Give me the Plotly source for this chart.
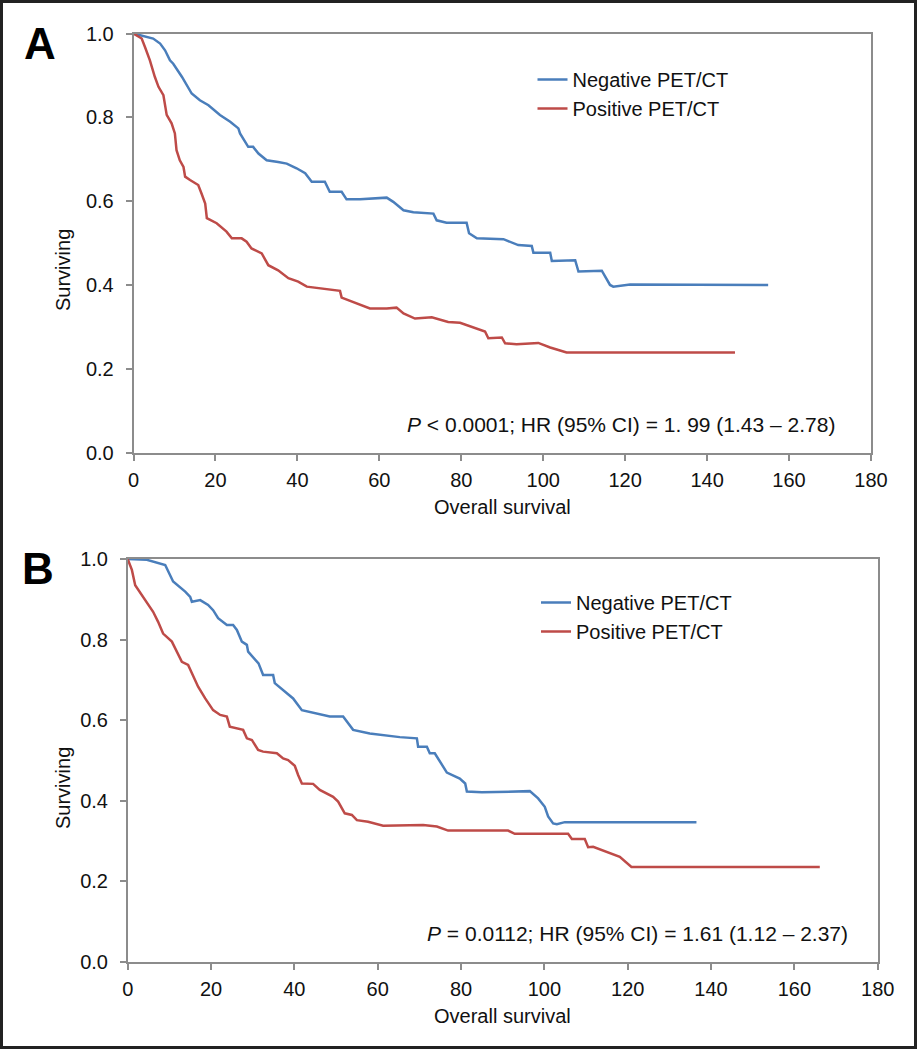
import plotly.graph_objects as go

# ---------------- data ----------------
months_ticks = [0, 20, 40, 60, 80, 100, 120, 140, 160, 180]
surv_ticks = [0.0, 0.2, 0.4, 0.6, 0.8, 1.0]

a_neg_x = [0, 4.8, 6.5, 7.7, 8.9, 9.7, 11.8, 14.2, 16.2, 18.3, 21.1, 23.6, 25.6, 26.0, 28.0, 29.2,
           30.5, 32.5, 35.3, 37.4, 39.8, 41.9, 43.5, 46.7, 47.9, 50.8, 52.0, 55.3, 61.8, 63.4,
           65.9, 68.3, 73.2, 74.0, 76.4, 81.3, 81.9, 83.8, 90.3, 93.9, 97.2, 97.6, 101.7, 102.1,
           107.8, 108.6, 114.3, 116.3, 117.1, 121.2, 154.9]
a_neg_y = [1.0, 0.988, 0.976, 0.960, 0.936, 0.928, 0.897, 0.857, 0.841, 0.829, 0.806, 0.790,
           0.774, 0.762, 0.730, 0.730, 0.714, 0.698, 0.694, 0.690, 0.679, 0.667, 0.647, 0.647,
           0.623, 0.623, 0.605, 0.605, 0.609, 0.599, 0.579, 0.574, 0.571, 0.555, 0.549, 0.549,
           0.524, 0.512, 0.510, 0.496, 0.494, 0.478, 0.478, 0.458, 0.460, 0.433, 0.435, 0.401,
           0.397, 0.402, 0.401]

a_pos_x = [0, 2.0, 2.8, 4.0, 5.2, 6.1, 7.3, 8.1, 9.3, 10.1, 10.5, 11.3, 12.2, 12.6, 13.8, 15.8,
           16.6, 17.5, 17.9, 20.3, 22.7, 24.0, 26.4, 27.6, 28.8, 31.3, 32.9, 35.3, 37.8, 40.2,
           42.3, 45.5, 50.4, 50.8, 53.6, 57.7, 61.8, 64.2, 65.9, 68.7, 72.8, 76.8, 79.7, 85.8,
           86.6, 89.9, 90.7, 93.5, 98.8, 101.7, 105.7, 109.8, 146.8]
a_pos_y = [1.0, 0.988, 0.968, 0.936, 0.897, 0.873, 0.853, 0.806, 0.786, 0.762, 0.722, 0.698,
           0.682, 0.659, 0.651, 0.639, 0.619, 0.595, 0.560, 0.548, 0.528, 0.512, 0.512, 0.504,
           0.488, 0.476, 0.448, 0.436, 0.417, 0.409, 0.397, 0.393, 0.387, 0.371, 0.361, 0.345,
           0.345, 0.347, 0.333, 0.321, 0.324, 0.313, 0.311, 0.290, 0.274, 0.276, 0.262, 0.260,
           0.263, 0.252, 0.240, 0.240, 0.240]

b_neg_x = [0, 4.6, 9.0, 9.7, 10.9, 13.8, 15.0, 15.4, 17.4, 19.3, 20.5, 21.7, 23.8, 25.3, 26.2,
           27.4, 28.6, 28.9, 31.4, 32.5, 34.9, 35.3, 37.3, 39.7, 41.8, 45.4, 48.5, 51.7, 54.1,
           58.1, 65.3, 69.4, 69.7, 71.8, 72.5, 73.7, 76.6, 79.7, 81.0, 81.4, 85.0, 96.5, 98.5,
           100.1, 100.9, 102.1, 103.0, 104.9, 136.5]
b_neg_y = [1.0, 0.998, 0.985, 0.969, 0.944, 0.919, 0.906, 0.894, 0.898, 0.886, 0.873, 0.853,
           0.836, 0.836, 0.824, 0.795, 0.787, 0.770, 0.741, 0.712, 0.712, 0.692, 0.675, 0.654,
           0.625, 0.617, 0.609, 0.609, 0.576, 0.567, 0.558, 0.555, 0.534, 0.534, 0.518, 0.518,
           0.470, 0.455, 0.443, 0.423, 0.421, 0.424, 0.406, 0.385, 0.361, 0.344, 0.342, 0.347,
           0.347]

b_pos_x = [0, 1.0, 1.8, 3.4, 4.6, 6.1, 7.3, 8.5, 10.6, 11.8, 13.0, 14.5, 15.7, 16.9, 18.6, 20.5,
           22.2, 23.8, 24.5, 26.2, 27.7, 28.6, 29.8, 31.3, 32.5, 35.8, 37.3, 38.5, 40.1, 40.9,
           41.8, 44.5, 46.1, 49.3, 50.5, 52.1, 53.8, 55.0, 57.7, 61.3, 70.9, 74.2, 76.9, 91.3,
           92.9, 105.7, 106.6, 109.7, 110.5, 111.7, 118.1, 120.9, 166.1]
b_pos_y = [1.0, 0.973, 0.935, 0.911, 0.894, 0.869, 0.844, 0.815, 0.795, 0.770, 0.745, 0.737,
           0.712, 0.683, 0.654, 0.625, 0.613, 0.609, 0.584, 0.580, 0.576, 0.555, 0.551, 0.526,
           0.522, 0.518, 0.505, 0.501, 0.487, 0.464, 0.443, 0.442, 0.427, 0.410, 0.398, 0.369,
           0.365, 0.352, 0.348, 0.338, 0.340, 0.336, 0.326, 0.326, 0.318, 0.318, 0.305, 0.305,
           0.285, 0.286, 0.261, 0.236, 0.236]

series_names = ["Negative PET/CT", "Positive PET/CT"]
stat_a = "<i>P</i> < 0.0001; HR (95% CI) = 1. 99 (1.43 \u2013 2.78)"
stat_b = "<i>P</i> = 0.0112; HR (95% CI) = 1.61 (1.12 \u2013 2.37)"

# ---------------- styling ----------------
W, H = 918, 1050
BLUE = "#4a7ebb"
RED = "#be4b48"
AXC = "#8c8c8c"
FONT = "Liberation Sans, Arial, sans-serif"


def px(x):
    return x / W


def py(y):
    return 1 - y / H


fig = go.Figure()
fig.add_trace(go.Scatter(x=a_neg_x, y=a_neg_y, mode="lines", name=series_names[0],
                         line=dict(color=BLUE, width=2.5), xaxis="x", yaxis="y", legend="legend"))
fig.add_trace(go.Scatter(x=a_pos_x, y=a_pos_y, mode="lines", name=series_names[1],
                         line=dict(color=RED, width=2.5), xaxis="x", yaxis="y", legend="legend"))
fig.add_trace(go.Scatter(x=b_neg_x, y=b_neg_y, mode="lines", name=series_names[0],
                         line=dict(color=BLUE, width=2.5), xaxis="x2", yaxis="y2", legend="legend2"))
fig.add_trace(go.Scatter(x=b_pos_x, y=b_pos_y, mode="lines", name=series_names[1],
                         line=dict(color=RED, width=2.5), xaxis="x2", yaxis="y2", legend="legend2"))

axis_common = dict(showline=True, linecolor=AXC, linewidth=1.5, mirror=True,
                   ticks="outside", ticklen=6, tickcolor=AXC, tickwidth=1.5,
                   showgrid=False, zeroline=False, automargin=False,
                   tickfont=dict(family=FONT, size=20, color="#111"))

fig.update_layout(
    width=W, height=H,
    margin=dict(l=0, r=0, t=0, b=0, pad=0, autoexpand=False),
    paper_bgcolor="white", plot_bgcolor="white",
    font=dict(family=FONT, color="#111"),
    xaxis=dict(domain=[px(133.5), px(871)], range=[0, 180], tickvals=months_ticks,
               anchor="y", ticklabelstandoff=2, **axis_common),
    yaxis=dict(domain=[py(453.3), py(33.5)], range=[0, 1], tickvals=surv_ticks,
               tickformat=".1f", anchor="x", ticklabelstandoff=8, **axis_common),
    xaxis2=dict(domain=[px(127.7), px(877.7)], range=[0, 180], tickvals=months_ticks,
                anchor="y2", ticklabelstandoff=2, **axis_common),
    yaxis2=dict(domain=[py(962), py(559)], range=[0, 1], tickvals=surv_ticks,
                tickformat=".1f", anchor="x2", ticklabelstandoff=8, **axis_common),
    legend=dict(x=px(532.5), y=py(60), xanchor="left", yanchor="top",
                font=dict(family=FONT, size=20, color="#111"), bgcolor="rgba(0,0,0,0)",
                tracegroupgap=0, itemwidth=30),
    legend2=dict(x=px(536), y=py(583), xanchor="left", yanchor="top",
                 font=dict(family=FONT, size=20, color="#111"), bgcolor="rgba(0,0,0,0)",
                 tracegroupgap=0, itemwidth=30),
    showlegend=True,
)

ann = []
C = dict(xref="paper", yref="paper", xanchor="center", yanchor="middle", showarrow=False)
# panel letters
ann.append(dict(text="<b>A</b>", x=px(40), y=py(43), font=dict(family=FONT, size=44, color="#000"), **C))
ann.append(dict(text="<b>B</b>", x=px(38), y=py(568), font=dict(family=FONT, size=44, color="#000"), **C))
# axis titles
for (cx, cy) in [(63, 270), (63, 788)]:
    ann.append(dict(text="Surviving", x=px(cx), y=py(cy), textangle=-90,
                    font=dict(family=FONT, size=20, color="#111"), **C))
for (cx, cy) in [(502, 507), (502, 1016)]:
    ann.append(dict(text="Overall survival", x=px(cx), y=py(cy),
                    font=dict(family=FONT, size=20, color="#111"), **C))
# statistics
S = dict(C)
S["xanchor"] = "right"
ann.append(dict(text=stat_a, x=px(837), y=py(424), font=dict(family=FONT, size=21, color="#111"), **S))
ann.append(dict(text=stat_b, x=px(850), y=py(933), font=dict(family=FONT, size=21, color="#111"), **S))
fig.update_layout(annotations=ann)

# outer frame
fig.add_shape(type="rect", xref="paper", yref="paper", x0=px(1.5), x1=px(915.5),
              y0=py(1047.5), y1=py(1.5), line=dict(color="#222", width=3), layer="above")

fig.write_html(
    "out.html",
    config={"displayModeBar": False},
    post_script="document.body.style.margin='0';document.body.style.padding='0';"
                "document.documentElement.style.overflow='hidden';",
)
